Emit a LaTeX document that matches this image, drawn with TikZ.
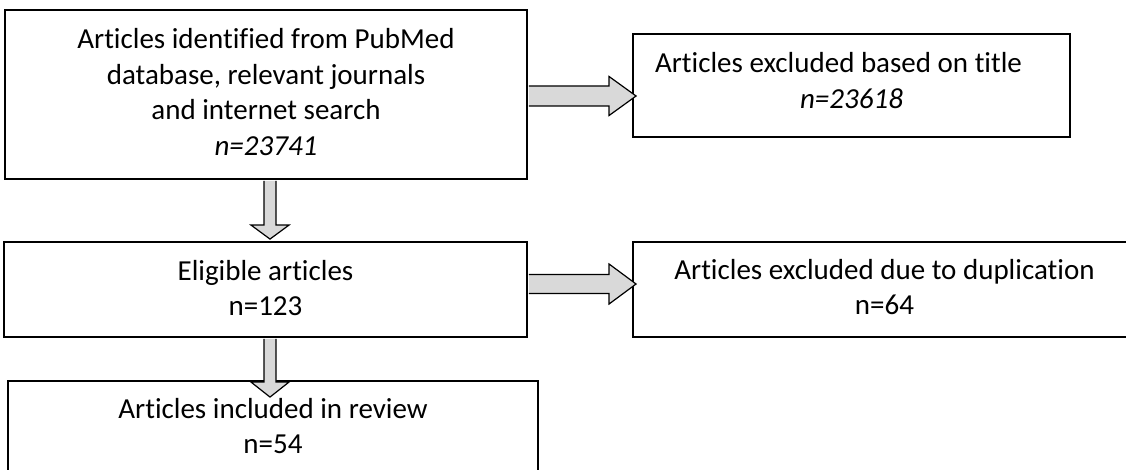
\documentclass[tikz,border=0pt]{standalone}
\usepackage{fontspec}
\setmainfont{Carlito}[Ligatures=NoCommon]
\usetikzlibrary{calc}
\definecolor{arrowgray}{HTML}{D9D9D9}
\newcommand\boxlines[1]{\begin{tabular}[t]{@{}c@{}}#1\end{tabular}}
\tikzset{
  box/.style={draw=black, line width=1.4pt, fill=white, inner sep=0pt, anchor=center,
    font=\fontsize{21.75}{26.6}\selectfont, text height=0pt},
  blockarrow/.style={draw=black, line width=0.9pt, fill=arrowgray, line join=miter},
}
\begin{document}
\begin{tikzpicture}[x=0.75pt,y=-0.75pt]
\useasboundingbox (0,0) rectangle (1126,470);
\clip (0,0) rectangle (1126,470);

% boxes
\node[box, minimum width=391.5pt, minimum height=126.75pt, text depth=68.25pt] (A) at (266,94.5)
  {\boxlines{Articles identified from PubMed\\database, relevant journals\\and internet search\\\textit{n=23741}}};
\node[box, minimum width=327.75pt, minimum height=77.25pt, text depth=18.75pt] (B) at (851.5,85.5)
  {\boxlines{Articles excluded based on title\makebox[19.5pt]{}\\\textit{n=23618}}};
\node[box, minimum width=392.25pt, minimum height=71.25pt, text depth=14.25pt] (C) at (265.5,289.5)
  {\boxlines{Eligible articles\\n=123}};
\node[box, minimum width=377.25pt, minimum height=71.25pt, text depth=15.75pt] (D) at (884.5,289.5)
  {\boxlines{Articles excluded due to duplication\\n=64}};
\node[box, minimum width=397.5pt, minimum height=72pt, text depth=16.5pt] (E) at (273,429)
  {\boxlines{Articles included in review\\n=54}};

% A -> B
\coordinate (abS) at ($(A.east)+(1,1.5)$);
\coordinate (abT) at ($(B.west |- abS)+(4,0)$);
\draw[blockarrow] ($(abS)+(0,-10)$) -- ($(abT)+(-27,-10)$) -- ($(abT)+(-27,-19.5)$) -- (abT)
  -- ($(abT)+(-27,19.5)$) -- ($(abT)+(-27,10)$) -- ($(abS)+(0,10)$);

% C -> D
\coordinate (cdS) at ($(C.east)+(1,-5.5)$);
\coordinate (cdT) at ($(D.west |- cdS)+(4,0)$);
\draw[blockarrow] ($(cdS)+(0,-9.5)$) -- ($(cdT)+(-27,-9.5)$) -- ($(cdT)+(-27,-20)$) -- (cdT)
  -- ($(cdT)+(-27,20)$) -- ($(cdT)+(-27,9.5)$) -- ($(cdS)+(0,9.5)$);

% A -> C
\coordinate (acS) at ($(A.south)+(4,1)$);
\coordinate (acT) at ($(acS |- C.north)+(0,-2)$);
\draw[blockarrow] ($(acS)+(-6,0)$) -- ($(acT)+(-6,-14)$) -- ($(acT)+(-19,-14)$) -- (acT)
  -- ($(acT)+(19,-14)$) -- ($(acT)+(6,-14)$) -- ($(acS)+(6,0)$);

% C -> E
\coordinate (ceS) at ($(C.south)+(4.5,1)$);
\coordinate (ceT) at ($(ceS |- E.north)+(0,17)$);
\draw[blockarrow] ($(ceS)+(-6,0)$) -- ($(ceT)+(-6,-15)$) -- ($(ceT)+(-19,-15)$) -- (ceT)
  -- ($(ceT)+(19,-15)$) -- ($(ceT)+(6,-15)$) -- ($(ceS)+(6,0)$);
\end{tikzpicture}
\end{document}
